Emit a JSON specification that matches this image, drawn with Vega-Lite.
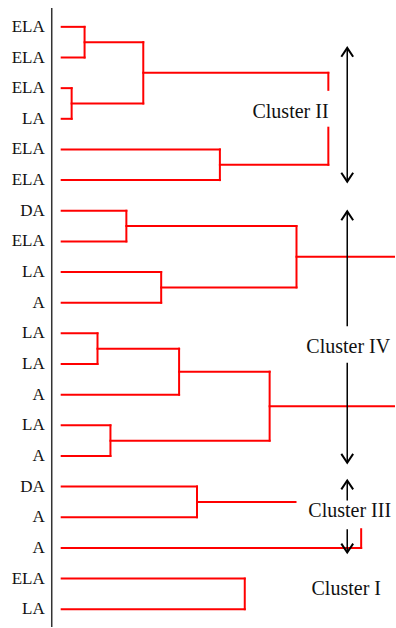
{
  "$schema": "https://vega.github.io/schema/vega-lite/v6.json",
  "width": 396,
  "height": 628,
  "autosize": {"type": "fit", "contains": "padding"},
  "padding": 0,
  "background": "white",
  "config": {"view": {"stroke": null}},
  "datasets": {
    "leaves": [
      {"y": 0, "label": "ELA"}, {"y": 1, "label": "ELA"}, {"y": 2, "label": "ELA"}, {"y": 3, "label": "LA"},
      {"y": 4, "label": "ELA"}, {"y": 5, "label": "ELA"}, {"y": 6, "label": "DA"}, {"y": 7, "label": "ELA"},
      {"y": 8, "label": "LA"}, {"y": 9, "label": "A"}, {"y": 10, "label": "LA"}, {"y": 11, "label": "LA"},
      {"y": 12, "label": "A"}, {"y": 13, "label": "LA"}, {"y": 14, "label": "A"}, {"y": 15, "label": "DA"},
      {"y": 16, "label": "A"}, {"y": 17, "label": "A"}, {"y": 18, "label": "ELA"}, {"y": 19, "label": "LA"}
    ],
    "segs": [
      {"x": 0, "x2": 2.3, "y": 0, "y2": 0},
      {"x": 0, "x2": 2.3, "y": 1, "y2": 1},
      {"x": 0, "x2": 1.0, "y": 2, "y2": 2},
      {"x": 0, "x2": 1.0, "y": 3, "y2": 3},
      {"x": 0, "x2": 15.9, "y": 4, "y2": 4},
      {"x": 0, "x2": 15.9, "y": 5, "y2": 5},
      {"x": 0, "x2": 6.5, "y": 6, "y2": 6},
      {"x": 0, "x2": 6.5, "y": 7, "y2": 7},
      {"x": 0, "x2": 10.0, "y": 8, "y2": 8},
      {"x": 0, "x2": 10.0, "y": 9, "y2": 9},
      {"x": 0, "x2": 3.6, "y": 10, "y2": 10},
      {"x": 0, "x2": 3.6, "y": 11, "y2": 11},
      {"x": 0, "x2": 11.8, "y": 12, "y2": 12},
      {"x": 0, "x2": 4.9, "y": 13, "y2": 13},
      {"x": 0, "x2": 4.9, "y": 14, "y2": 14},
      {"x": 0, "x2": 13.6, "y": 15, "y2": 15},
      {"x": 0, "x2": 13.6, "y": 16, "y2": 16},
      {"x": 0, "x2": 30.1, "y": 17, "y2": 17},
      {"x": 0, "x2": 18.4, "y": 18, "y2": 18},
      {"x": 0, "x2": 18.4, "y": 19, "y2": 19},
      {"x": 2.3, "x2": 2.3, "y": 0, "y2": 1},
      {"x": 1.0, "x2": 1.0, "y": 2, "y2": 3},
      {"x": 8.2, "x2": 8.2, "y": 0.5, "y2": 2.5},
      {"x": 15.9, "x2": 15.9, "y": 4, "y2": 5},
      {"x": 26.8, "x2": 26.8, "y": 1.5, "y2": 2.055},
      {"x": 26.8, "x2": 26.8, "y": 3.29, "y2": 4.5},
      {"x": 6.5, "x2": 6.5, "y": 6, "y2": 7},
      {"x": 10.0, "x2": 10.0, "y": 8, "y2": 9},
      {"x": 23.6, "x2": 23.6, "y": 6.5, "y2": 8.5},
      {"x": 3.6, "x2": 3.6, "y": 10, "y2": 11},
      {"x": 11.8, "x2": 11.8, "y": 10.5, "y2": 12},
      {"x": 4.9, "x2": 4.9, "y": 13, "y2": 14},
      {"x": 20.9, "x2": 20.9, "y": 11.25, "y2": 13.5},
      {"x": 13.6, "x2": 13.6, "y": 15, "y2": 16},
      {"x": 30.1, "x2": 30.1, "y": 16.39, "y2": 17},
      {"x": 18.4, "x2": 18.4, "y": 18, "y2": 19},
      {"x": 2.3, "x2": 8.2, "y": 0.5, "y2": 0.5},
      {"x": 1.0, "x2": 8.2, "y": 2.5, "y2": 2.5},
      {"x": 8.2, "x2": 26.8, "y": 1.5, "y2": 1.5},
      {"x": 15.9, "x2": 26.8, "y": 4.5, "y2": 4.5},
      {"x": 6.5, "x2": 23.6, "y": 6.5, "y2": 6.5},
      {"x": 10.0, "x2": 23.6, "y": 8.5, "y2": 8.5},
      {"x": 23.6, "x2": 33.4, "y": 7.5, "y2": 7.5},
      {"x": 3.6, "x2": 11.8, "y": 10.5, "y2": 10.5},
      {"x": 11.8, "x2": 20.9, "y": 11.25, "y2": 11.25},
      {"x": 4.9, "x2": 20.9, "y": 13.5, "y2": 13.5},
      {"x": 20.9, "x2": 33.4, "y": 12.375, "y2": 12.375},
      {"x": 13.6, "x2": 23.5, "y": 15.5, "y2": 15.5}
    ],
    "shafts": [
      {"x": 28.7, "y": 0.687, "y2": 5.05},
      {"x": 28.7, "y": 6.02, "y2": 9.77},
      {"x": 28.7, "y": 10.96, "y2": 14.22},
      {"x": 28.7, "y": 14.8, "y2": 15.45},
      {"x": 28.7, "y": 16.39, "y2": 17.15}
    ],
    "heads": [
      {"x": 28.7, "y": 0.687, "dir": "up"},
      {"x": 28.7, "y": 5.05, "dir": "down"},
      {"x": 28.7, "y": 6.02, "dir": "up"},
      {"x": 28.7, "y": 14.22, "dir": "down"},
      {"x": 28.7, "y": 14.8, "dir": "up"},
      {"x": 28.7, "y": 17.15, "dir": "down"}
    ],
    "clusters": [
      {"x": 23.0, "y": 2.77, "text": "Cluster II"},
      {"x": 28.8, "y": 10.43, "text": "Cluster IV"},
      {"x": 28.95, "y": 15.8, "text": "Cluster III"},
      {"x": 28.6, "y": 18.34, "text": "Cluster I"}
    ]
  },
  "layer": [
    {
      "data": {"name": "segs"},
      "mark": {"type": "rule", "color": "#ff0000", "strokeWidth": 2, "strokeCap": "square"},
      "encoding": {
        "x": {"field": "x", "type": "quantitative", "scale": {"domain": [-6.2, 33.4], "nice": false, "zero": false}, "axis": null},
        "y": {"field": "y", "type": "quantitative", "scale": {"domain": [-0.876, 19.58], "nice": false, "zero": false, "reverse": true}, "axis": null},
        "x2": {"field": "x2"},
        "y2": {"field": "y2"}
      }
    },
    {
      "data": {"values": [{}]},
      "mark": {"type": "rule", "color": "#333333", "strokeWidth": 1.5},
      "encoding": {
        "x": {"datum": -1.0, "type": "quantitative", "scale": {"domain": [-6.2, 33.4], "nice": false, "zero": false}, "axis": null},
        "y": {"datum": -0.615, "type": "quantitative", "scale": {"domain": [-0.876, 19.58], "nice": false, "zero": false, "reverse": true}, "axis": null},
        "y2": {"datum": 19.58}
      }
    },
    {
      "data": {"name": "shafts"},
      "mark": {"type": "rule", "color": "#000000", "strokeWidth": 1.5},
      "encoding": {
        "x": {"field": "x", "type": "quantitative", "scale": {"domain": [-6.2, 33.4], "nice": false, "zero": false}, "axis": null},
        "y": {"field": "y", "type": "quantitative", "scale": {"domain": [-0.876, 19.58], "nice": false, "zero": false, "reverse": true}, "axis": null},
        "y2": {"field": "y2"}
      }
    },
    {
      "data": {"name": "heads"},
      "mark": {"type": "point", "filled": false, "stroke": "#000000", "strokeWidth": 2, "size": 140, "opacity": 1},
      "encoding": {
        "x": {"field": "x", "type": "quantitative", "scale": {"domain": [-6.2, 33.4], "nice": false, "zero": false}, "axis": null},
        "y": {"field": "y", "type": "quantitative", "scale": {"domain": [-0.876, 19.58], "nice": false, "zero": false, "reverse": true}, "axis": null},
        "shape": {"field": "dir", "type": "nominal", "scale": {"domain": ["up", "down"], "range": ["M-1,1.5L0,0L1,1.5", "M-1,-1.5L0,0L1,-1.5"]}, "legend": null}
      }
    },
    {
      "data": {"name": "leaves"},
      "mark": {"type": "text", "align": "right", "baseline": "middle", "font": "Liberation Serif", "fontSize": 17, "color": "#111111"},
      "encoding": {
        "x": {"datum": -1.7, "type": "quantitative", "scale": {"domain": [-6.2, 33.4], "nice": false, "zero": false}, "axis": null},
        "y": {"field": "y", "type": "quantitative", "scale": {"domain": [-0.876, 19.58], "nice": false, "zero": false, "reverse": true}, "axis": null},
        "text": {"field": "label"}
      }
    },
    {
      "data": {"name": "clusters"},
      "mark": {"type": "text", "align": "center", "baseline": "middle", "font": "Liberation Serif", "fontSize": 20, "color": "#111111"},
      "encoding": {
        "x": {"field": "x", "type": "quantitative", "scale": {"domain": [-6.2, 33.4], "nice": false, "zero": false}, "axis": null},
        "y": {"field": "y", "type": "quantitative", "scale": {"domain": [-0.876, 19.58], "nice": false, "zero": false, "reverse": true}, "axis": null},
        "text": {"field": "text"}
      }
    }
  ]
}
